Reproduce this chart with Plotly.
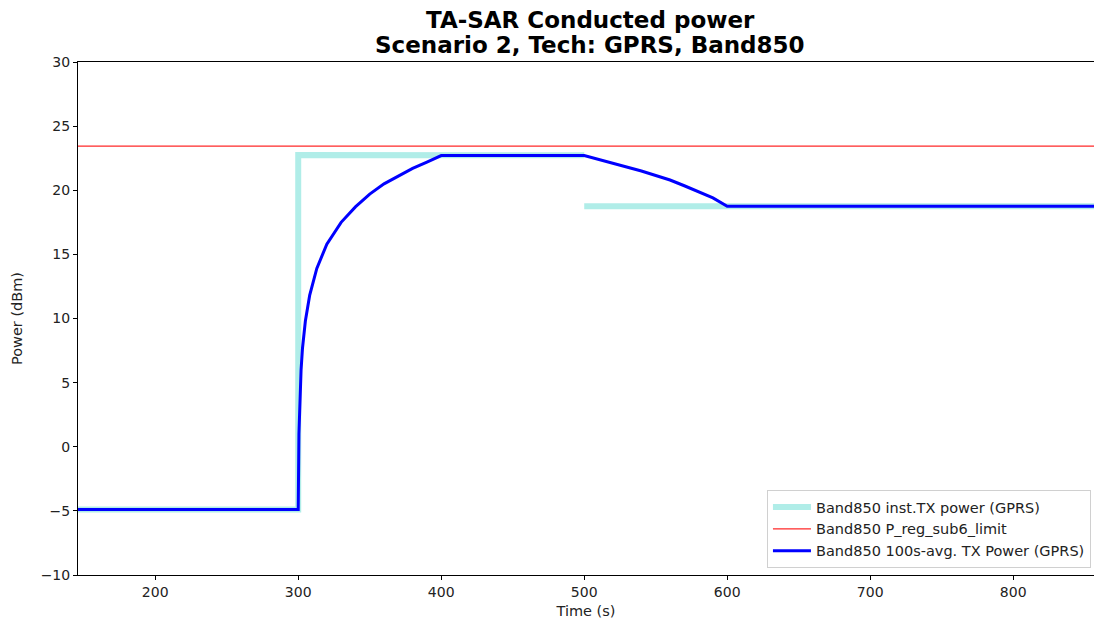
import plotly.graph_objects as go

# ---- data ----
inst_time = [140, 300, 300, 500, None, 500, 600, 880]
inst_power = [-4.9, -4.9, 22.75, 22.72, None, 18.75, 18.75, 18.75]

limit_time = [140, 880]
limit_power = [23.44, 23.44]

avg_time = [140, 300, 300.5, 301, 302, 303, 305, 308, 313, 320, 330, 340, 350,
            360, 370, 380, 390, 400, 500, 510, 520, 530, 540, 550, 560, 570,
            580, 590, 600, 880]
avg_power = [-4.9, -4.9, 1.0, 3.4, 6.0, 7.7, 9.8, 11.8, 13.9, 15.8, 17.5, 18.7,
             19.7, 20.5, 21.1, 21.7, 22.2, 22.7, 22.7, 22.4, 22.15, 21.85, 21.5,
             21.15, 20.8, 20.35, 19.9, 19.4, 18.75, 18.75]

x_ticks = [200, 300, 400, 500, 600, 700, 800]
y_ticks = [-10, -5, 0, 5, 10, 15, 20, 25, 30]

title_lines = ["TA-SAR Conducted power", "Scenario 2, Tech: GPRS, Band850"]

FONT = "DejaVu Sans"

# figure is shrunk by the 8px page margin so no scrollbars appear
W, H = 1086, 611
ML, MR, MT, MB = 70, 0, 54, 44
PH = H - MT - MB
PW = W - ML - MR

fig = go.Figure()
fig.add_trace(go.Scatter(
    x=inst_time, y=inst_power, mode="lines",
    name="Band850 inst.TX power (GPRS)",
    line=dict(color="rgb(176,237,232)", width=6),
    connectgaps=False,
))
fig.add_trace(go.Scatter(
    x=limit_time, y=limit_power, mode="lines",
    name="Band850 P_reg_sub6_limit",
    line=dict(color="rgb(255,40,40)", width=1.2),
))
fig.add_trace(go.Scatter(
    x=avg_time, y=avg_power, mode="lines",
    name="Band850 100s-avg. TX Power (GPRS)",
    line=dict(color="rgb(0,0,255)", width=3),
))

title_x = (582 - ML) / PW
fig.add_annotation(text="<b>" + title_lines[0] + "</b>", xref="paper", yref="paper",
                   x=title_x, y=(H - MB - 12) / PH, xanchor="center", yanchor="middle",
                   showarrow=False, borderpad=0,
                   font=dict(family=FONT, size=23, color="black"))
fig.add_annotation(text="<b>" + title_lines[1] + "</b>", xref="paper", yref="paper",
                   x=title_x, y=(H - MB - 37) / PH, xanchor="center", yanchor="middle",
                   showarrow=False, borderpad=0,
                   font=dict(family=FONT, size=23, color="black"))

fig.update_layout(
    width=W, height=H,
    margin=dict(l=ML, r=MR, t=MT, b=MB),
    paper_bgcolor="white", plot_bgcolor="white",
    font=dict(family=FONT, size=14, color="#222"),
    legend=dict(
        x=0.997, y=(H - MB - 560) / PH, xanchor="right", yanchor="bottom",
        bgcolor="rgba(255,255,255,0.85)", bordercolor="#d0d0d0", borderwidth=1,
        font=dict(family=FONT, size=14.5, color="#222"),
        tracegroupgap=0, itemwidth=38,
    ),
    showlegend=True,
)
fig.update_xaxes(
    range=[146, 146 + PW / 1.43], tickvals=x_ticks, ticktext=[str(v) for v in x_ticks],
    showgrid=False, zeroline=False, automargin=False,
    showline=True, linecolor="black", linewidth=1, mirror=True,
    ticks="outside", ticklen=4, tickcolor="black",
    tickfont=dict(family=FONT, size=14, color="#222"),
    title=dict(text="Time (s)", font=dict(family=FONT, size=14.5), standoff=9),
)
fig.update_yaxes(
    range=[-10, 30], tickvals=y_ticks,
    ticktext=[("\u2212" + str(-v)) if v < 0 else str(v) for v in y_ticks],
    showgrid=False, zeroline=False, automargin=False,
    showline=True, linecolor="black", linewidth=1,
    ticks="outside", ticklen=4, tickcolor="black",
    tickfont=dict(family=FONT, size=14, color="#222"),
    title=dict(text="Power (dBm)", font=dict(family=FONT, size=14.5), standoff=14),
)

fig.write_html("out.html")
